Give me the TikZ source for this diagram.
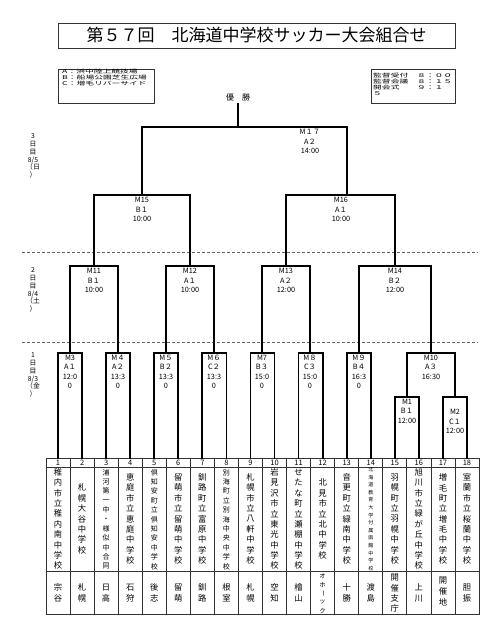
\documentclass[tikz,border=0pt]{standalone}
\usepackage{fontspec}
\usepackage{graphicx}
\setmainfont{Noto Sans CJK JP}
\makeatletter
\newcommand\vtxt[2]{\def\vt@h{#1}\vbox{\offinterlineskip\expandafter\vt@loop#2\vt@end}}
\def\vt@loop#1{\ifx\vt@end#1\else\vbox to \vt@h{\vss\hbox to 2em{\hss#1\hss}\vss}\expandafter\vt@loop\fi}
\makeatother
\newcommand\widetxt[1]{\scalebox{1.35}[0.8]{#1}}
\tikzset{
  br/.style={line width=1.8pt, line cap=rect},
  grid/.style={line width=0.7pt, draw=black!80},
  box/.style={line width=0.7pt, draw=black!80},
  dline/.style={line width=0.6pt, draw=black!60, dash pattern=on 3pt off 2pt},
  lab/.style={font=\fontsize{7.3}{9.6}\selectfont, align=center, inner sep=0pt, anchor=north},
  daylab/.style={font=\fontsize{6.8}{7.8}\selectfont, align=center, inner sep=0pt},
  num/.style={font=\fontsize{7.5}{8}\selectfont, inner sep=0pt},
  team/.style={font=\fontsize{8.3}{9}\selectfont, inner sep=0pt},
  teams/.style={font=\fontsize{7}{8}\selectfont, inner sep=0pt},
  teamt/.style={font=\fontsize{5}{6}\selectfont, inner sep=0pt},
  legend/.style={font=\fontsize{6.5}{6.5}\selectfont, inner sep=0pt, anchor=west}
}
\begin{document}
\begin{tikzpicture}[x=1pt,y=-1pt]
\useasboundingbox (0,0) rectangle (500,636);
\fill[white] (0,0) rectangle (500,636);

% title
\node[box, minimum width=397pt, minimum height=25pt, inner sep=0pt, font=\fontsize{17}{17}\selectfont] (title) at (256.5,35.5) {第５７回　北海道中学校サッカー大会組合せ};

% legend boxes
\node[box, minimum width=96pt, minimum height=34pt, inner sep=0pt] (legbox) at (106,86) {};
\node[legend] (legA) at (62,71.6) {\widetxt{A：浜中陸上競技場}};
\node[legend] (legB) at (62,77.8) {\widetxt{B：船場公園芝生広場}};
\node[legend] (legC) at (62,84) {\widetxt{C：増毛リバーサイド}};
\node[box, minimum width=84pt, minimum height=34pt, inner sep=0pt] (infobox) at (413,86) {};
\node[legend] (infA) at (373,75.5) {\widetxt{監督受付　８：００}};
\node[legend] (infB) at (373,81.7) {\widetxt{監督会議　８：１５}};
\node[legend] (infC) at (373,87.9) {\widetxt{開会式　　９：１}};
\node[legend] (infD) at (373,94.1) {\widetxt{５}};

% winner
\node[font=\fontsize{8}{8}\selectfont, inner sep=0pt] (yusho) at (238,97) {優　勝};
\coordinate (ytop) at (238,104);

% day labels
\node[daylab] (day3) at (33,156) {3\\日\\目\\8/5\\（日\\）};
\node[daylab] (day2) at (33,290) {2\\日\\目\\8/4\\（土\\）};
\node[daylab] (day1) at (33,375) {1\\日\\目\\8/3\\（金\\）};

% dashed separators
\coordinate (d1a) at (22,252); \coordinate (d1b) at (478,252);
\coordinate (d2a) at (22,342); \coordinate (d2b) at (478,342);
\draw[dline] (d1a) -- (d1b);
\draw[dline] (d2a) -- (d2b);

% table
\coordinate (tabNW) at (46,458);
\coordinate (tabSE) at (479,614);
\draw[grid] (tabNW) rectangle (tabSE);
\draw[grid] (46,467) -- (479,467);
\draw[grid] (46,571) -- (479,571);
\foreach \i in {1,...,17} \draw[grid] ({46+24.056*\i},458) -- ({46+24.056*\i},614);
\foreach \i in {1,...,18} {
  \coordinate (t\i) at ({46+24.056*(\i-0.5)},458);
  \node[num] (n\i) at ({46+24.056*(\i-0.5)},462.6) {\i};
}

% team names
\foreach \i/\t in {1/稚内市立稚内南中学校,2/札幌大谷中学校,4/恵庭市立恵庭中学校,6/留萌市立留萌中学校,7/釧路町立富原中学校,9/札幌市立八軒中学校,10/岩見沢市立東光中学校,11/せたな町立瀬棚中学校,12/北見市立北中学校,13/音更町立緑南中学校,15/羽幌町立羽幌中学校,16/旭川市立緑が丘中学校,17/増毛町立増毛中学校,18/室蘭市立桜蘭中学校}
  \node[team] (s\i) at ({46+24.056*(\i-0.5)},519) {\vtxt{10.4pt}{\t}};
\foreach \i/\t in {3/浦河第一中・様似中合同,5/倶知安町立倶知安中学校,8/別海町立別海中央中学校}
  \node[teams] (s\i) at ({46+24.056*(\i-0.5)},519.5) {\vtxt{9.4pt}{\t}};
\node[teamt] (s14) at ({46+24.056*13.5},519) {\vtxt{7.6pt}{北海道教育大学付属函館中学校}};

% regions
\foreach \i/\t in {1/宗谷,2/札幌,3/日高,4/石狩,5/後志,6/留萌,7/釧路,8/根室,9/札幌,10/空知,11/檜山,13/十勝,14/渡島,16/上川,18/胆振}
  \node[team] (r\i) at ({46+24.056*(\i-0.5)},593) {\vtxt{10.6pt}{\t}};
\node[team] (r15) at ({46+24.056*14.5},593) {\vtxt{10.2pt}{開催支庁}};
\node[team] (r17) at ({46+24.056*16.5},591.5) {\vtxt{10.5pt}{開催地}};
\begin{scope}
\clip (310,571) rectangle (334,614);
\node[font=\fontsize{6.3}{7}\selectfont, inner sep=0pt, anchor=north] (r12) at ({46+24.056*11.5},571.5) {\vtxt{8.7pt}{オホ{\rotatebox[origin=c]{-90}{ー}}ック}};
\end{scope}

% bracket joints
\coordinate (m17) at (238,127);
\coordinate (m15) at (142,195);
\coordinate (m16) at (347,195);
\coordinate (m11) at (94,266);
\coordinate (m12) at (190,266);
\coordinate (m13) at (286,266);
\coordinate (m14) at (395,266);
\coordinate (m3) at (70,353);
\coordinate (m4) at (118,353);
\coordinate (m5) at (166,353);
\coordinate (m6) at (214,353);
\coordinate (m7) at (262,353);
\coordinate (m8) at (310,353);
\coordinate (m9) at (359,353);
\coordinate (m10) at (431,353);
\coordinate (m1) at (407,397);
\coordinate (m2) at (455,397);

% brackets
\draw[br] (ytop) -- (m17);
\draw[br] (m15) |- (m17) -| (m16);
\draw[br] (m11) |- (m15) -| (m12);
\draw[br] (m13) |- (m16) -| (m14);
\draw[br] (m3) |- (m11) -| (m4);
\draw[br] (m5) |- (m12) -| (m6);
\draw[br] (m7) |- (m13) -| (m8);
\draw[br] (m9) |- (m14) -| (m10);
\draw[br] (t1) |- (m3) -| (t2);
\draw[br] (t3) |- (m4) -| (t4);
\draw[br] (t5) |- (m5) -| (t6);
\draw[br] (t7) |- (m6) -| (t8);
\draw[br] (t9) |- (m7) -| (t10);
\draw[br] (t11) |- (m8) -| (t12);
\draw[br] (t13) |- (m9) -| (t14);
\draw[br] (m1) |- (m10) -| (m2);
\draw[br] (t15) |- (m1) -| (t16);
\draw[br] (t17) |- (m2) -| (t18);

% match labels
\node[lab] (l17) at (310,129) {M１７\\A２\\14:00};
\node[lab] (l15) at (142,197) {M15\\B１\\10:00};
\node[lab] (l16) at (341,197) {M16\\A１\\10:00};
\node[lab] (l11) at (94,268) {M11\\B１\\10:00};
\node[lab] (l12) at (190,268) {M12\\A１\\10:00};
\node[lab] (l13) at (286,268) {M13\\A２\\12:00};
\node[lab] (l14) at (395,268) {M14\\B２\\12:00};
\node[lab] (l3) at (70,354.5) {M3\\A１\\12:0\\0};
\node[lab] (l4) at (118,354.5) {M４\\A２\\13:3\\0};
\node[lab] (l5) at (166,354.5) {M５\\B２\\13:3\\0};
\node[lab] (l6) at (214,354.5) {M６\\C２\\13:3\\0};
\node[lab] (l7) at (262,354.5) {M7\\B３\\15:0\\0};
\node[lab] (l8) at (310,354.5) {M８\\C３\\15:0\\0};
\node[lab] (l9) at (359,354.5) {M９\\B４\\16:3\\0};
\node[lab] (l10) at (431,354.5) {M10\\A３\\16:30};
\node[lab] (l1) at (407,398.5) {M1\\B１\\12:00};
\node[lab] (l2) at (455,409) {M2\\C１\\12:00};
\end{tikzpicture}
\end{document}
